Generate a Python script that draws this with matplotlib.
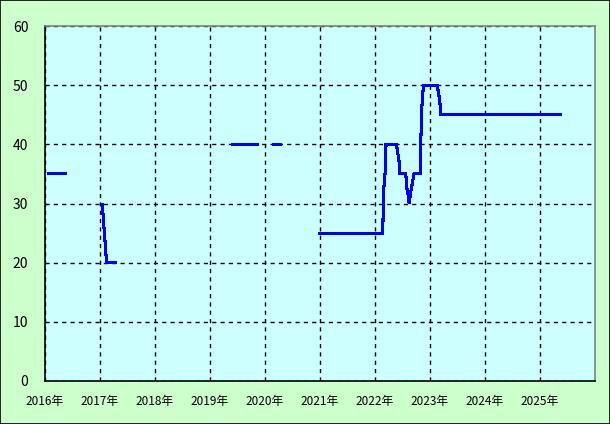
import matplotlib

matplotlib.use("Agg")
import matplotlib.pyplot as plt
import numpy as np
from matplotlib.patches import Rectangle

# breakpoints (decimal year, value); NaN = gap in the data
years = [
    2016.04, 2016.39, np.nan,
    2017.04, 2017.12, 2017.30, np.nan,
    2019.39, 2019.89, np.nan,
    2020.13, 2020.30, np.nan,
    2020.97, 2022.14, 2022.15, 2022.16, 2022.19, 2022.20, 2022.39,
    2022.44, 2022.45, 2022.56, 2022.58, 2022.61, 2022.62, 2022.65,
    2022.68, 2022.71, 2022.82, 2022.825, 2022.84, 2022.85, 2022.88,
    2023.13, 2023.16, 2023.18, 2023.20, 2025.39,
]
values = [
    35, 35, np.nan,
    30, 20, 20, np.nan,
    40, 40, np.nan,
    40, 40, np.nan,
    25, 25, 29, 32.5, 36, 40, 40,
    37, 35, 35, 32.5, 31, 30, 32,
    33.5, 35, 35, 39, 42.5, 46, 50,
    50, 48.5, 47, 45, 45,
]
tick_years = list(range(2016, 2026))
tick_labels = [f"{y}年" for y in tick_years]

plt.rcParams["font.family"] = ["Noto Sans CJK JP", "DejaVu Sans"]

fig = plt.figure(figsize=(6.1, 4.24), dpi=100)
fig.patch.set_facecolor("#ccffcc")
fig.patches.append(Rectangle((0, 0), 1, 1, transform=fig.transFigure,
                             fill=False, edgecolor="black", lw=1.2))
ax = fig.add_axes([45 / 610, 43 / 424, 550 / 610, 355 / 424])
ax.set_facecolor("#ccffff")

ax.plot(years, values, color="#0000ff", lw=1.5, antialiased=False,
        solid_capstyle="butt", solid_joinstyle="miter", zorder=3)

ax.set_xlim(2016, 2026)
ax.set_ylim(0, 60)
ax.set_xticks(tick_years)
ax.set_xticklabels(tick_labels, fontsize=8.5)
ax.set_yticks(range(0, 61, 10))
ax.tick_params(axis="y", labelsize=10)
ax.tick_params(length=0)
ax.tick_params(axis="x", pad=10)
ax.tick_params(axis="y", pad=12)
ax.grid(True, color="black", ls=(0, (3, 3)), lw=1)
for side in ("left", "bottom"):
    ax.spines[side].set_color("black")
    ax.spines[side].set_linewidth(1.2)
for side in ("top", "right"):
    ax.spines[side].set_color("#808080")
    ax.spines[side].set_linewidth(1.2)

fig.savefig("out.png", dpi=100, facecolor=fig.get_facecolor())
